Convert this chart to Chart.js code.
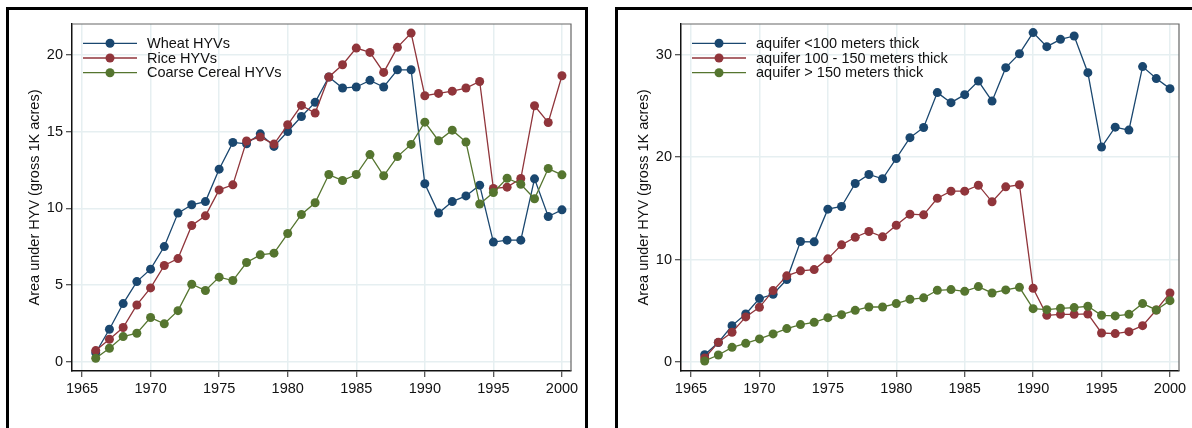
<!DOCTYPE html>
<html>
<head>
<meta charset="utf-8">
<script src="https://cdn.jsdelivr.net/npm/chart.js@4/dist/chart.umd.min.js"></script>
<style>
  html, body { margin: 0; padding: 0; background: #fff; }
  body { width: 1192px; height: 428px; position: relative; overflow: hidden; }
  .frame { position: absolute; top: 7px; height: 440px; border: 3px solid #000; box-sizing: border-box; }
  #frame-left { left: 6px; width: 582px; }
  #frame-right { left: 615px; width: 600px; }
  canvas { position: absolute; top: 0; }
  #chart-left { left: 0; }
  #chart-right { left: 596px; }
</style>
</head>
<body>
<div class="frame" id="frame-left"></div>
<div class="frame" id="frame-right"></div>
<canvas id="chart-left" width="596" height="428"></canvas>
<canvas id="chart-right" width="596" height="428"></canvas>
<script>
// ==== Data ====
const years = [1966, 1967, 1968, 1969, 1970, 1971, 1972, 1973, 1974, 1975, 1976, 1977,
    1978, 1979, 1980, 1981, 1982, 1983, 1984, 1985, 1986, 1987, 1988, 1989, 1990, 1991,
    1992, 1993, 1994, 1995, 1996, 1997, 1998, 1999, 2000];

const wheatHYV = [0.6, 2.13, 3.8, 5.23, 6.04, 7.51, 9.69, 10.23, 10.44, 12.55, 14.29, 14.2,
    14.85, 14.03, 15.0, 15.98, 16.9, 18.55, 17.83, 17.9, 18.33, 17.9, 19.02, 19.02, 11.6, 9.69,
    10.44, 10.81, 11.51, 7.8, 7.93, 7.93, 11.92, 9.47, 9.9];
const riceHYV = [0.74, 1.48, 2.24, 3.71, 4.82, 6.28, 6.73, 8.88, 9.51, 11.2, 11.53, 14.38,
    14.64, 14.18, 15.44, 16.7, 16.2, 18.55, 19.35, 20.43, 20.15, 18.85, 20.48, 21.41, 17.33, 17.48,
    17.63, 17.83, 18.26, 11.29, 11.38, 11.94, 16.68, 15.59, 18.63];
const coarseHYV = [0.24, 0.89, 1.65, 1.87, 2.89, 2.48, 3.34, 5.06, 4.65, 5.52, 5.3, 6.47,
    6.97, 7.08, 8.36, 9.6, 10.36, 12.2, 11.81, 12.2, 13.5, 12.12, 13.37, 14.16, 15.61, 14.4,
    15.09, 14.31, 10.28, 11.03, 11.96, 11.57, 10.62, 12.59, 12.18];

const aquiferThin = [0.71, 1.9, 3.55, 4.69, 6.19, 6.61, 8.05, 11.76, 11.73, 14.92, 15.18, 17.43,
    18.31, 17.89, 19.87, 21.9, 22.9, 26.3, 25.32, 26.1, 27.43, 25.47, 28.74, 30.1, 32.16, 30.79,
    31.5, 31.83, 28.25, 20.98, 22.93, 22.64, 28.84, 27.67, 26.69];
const aquiferMid = [0.39, 1.92, 2.9, 4.4, 5.34, 6.97, 8.41, 8.9, 9.02, 10.07, 11.44, 12.18,
    12.74, 12.22, 13.35, 14.43, 14.37, 15.99, 16.68, 16.68, 17.26, 15.64, 17.1, 17.3, 7.2, 4.56,
    4.65, 4.65, 4.69, 2.83, 2.77, 2.96, 3.55, 5.08, 6.74];
const aquiferThick = [0.1, 0.68, 1.43, 1.82, 2.25, 2.74, 3.26, 3.65, 3.87, 4.33, 4.62, 5.04,
    5.37, 5.37, 5.7, 6.12, 6.26, 7.0, 7.07, 6.9, 7.36, 6.74, 7.04, 7.29, 5.21, 5.11,
    5.24, 5.31, 5.44, 4.56, 4.5, 4.65, 5.7, 5.08, 5.99];

const xTicks = [1965, 1970, 1975, 1980, 1985, 1990, 1995, 2000];
const yTicksLeft = [0, 5, 10, 15, 20];
const yTicksRight = [0, 10, 20, 30];

const leftLabels = ['Wheat HYVs', 'Rice HYVs', 'Coarse Cereal HYVs'];
const rightLabels = ['aquifer <100 meters thick', 'aquifer 100 - 150 meters thick', 'aquifer > 150 meters thick'];
const yTitle = 'Area under HYV (gross 1K acres)';

const NAVY = '#1a476f';
const MAROON = '#90353b';
const GREEN = '#55752f';
const GRID = '#e6eff1';
const FONT = "'Liberation Sans', Arial, Helvetica, sans-serif";

Chart.defaults.font.family = FONT;
Chart.defaults.font.size = 14.5;
Chart.defaults.color = '#111';

// ==== Helpers ====
function makeSeries(label, values, color, order) {
    return {
        label: label,
        data: values.map((v, i) => ({ x: years[i], y: v })),
        borderColor: color,
        backgroundColor: color,
        pointBackgroundColor: color,
        pointBorderColor: color,
        pointBorderWidth: 0,
        pointRadius: 4.5,
        borderWidth: 1.3,
        tension: 0,
        order: order
    };
}

// legend inside the plot, top-left, plus the grey frame on top/right
const plotDecor = {
    id: 'plotDecor',
    beforeDatasetsDraw(chart) {
        const a = chart.chartArea;
        const ctx = chart.ctx;
        ctx.save();
        ctx.strokeStyle = '#666';
        ctx.lineWidth = 1.2;
        ctx.beginPath();
        ctx.moveTo(a.left, a.top);
        ctx.lineTo(a.right, a.top);
        ctx.lineTo(a.right, a.bottom);
        ctx.stroke();
        ctx.restore();
    },
    afterDraw(chart) {
        const a = chart.chartArea;
        const ctx = chart.ctx;
        ctx.save();
        chart.data.datasets.forEach((ds, i) => {
            const y = a.top + 19.3 + i * 14.7;
            ctx.strokeStyle = ds.borderColor;
            ctx.lineWidth = 1.3;
            ctx.beginPath();
            ctx.moveTo(a.left + 11, y);
            ctx.lineTo(a.left + 65, y);
            ctx.stroke();
            ctx.fillStyle = ds.borderColor;
            ctx.beginPath();
            ctx.arc(a.left + 38, y, 4.5, 0, Math.PI * 2);
            ctx.fill();
            ctx.fillStyle = '#111';
            ctx.font = '14.5px ' + FONT;
            ctx.textBaseline = 'middle';
            ctx.textAlign = 'left';
            ctx.fillText(ds.label, a.left + 75, y + 0.5);
        });
        ctx.restore();
    }
};

function buildOptions(yMin, yMax, yTicks) {
    return {
        responsive: false,
        animation: false,
        layout: { padding: { left: 18, top: 24, right: 25, bottom: 17 } },
        plugins: { legend: { display: false }, tooltip: { enabled: false } },
        scales: {
            x: {
                type: 'linear',
                min: 1964.27,
                max: 2000.66,
                afterBuildTicks: scale => { scale.ticks = xTicks.map(v => ({ value: v })); },
                afterFit: scale => { scale.height = 40; },
                ticks: { padding: 3, callback: v => String(v) },
                grid: { color: GRID, lineWidth: 1.5, tickLength: 6, tickColor: '#222', tickWidth: 1 },
                border: { color: '#111', width: 1.5 }
            },
            y: {
                min: yMin,
                max: yMax,
                afterBuildTicks: scale => { scale.ticks = yTicks.map(v => ({ value: v })); },
                afterFit: scale => { scale.width = 54; },
                ticks: { padding: 3 },
                title: { display: true, text: yTitle, padding: { top: 8, bottom: 0 } },
                grid: { color: GRID, lineWidth: 1.5, tickLength: 6, tickColor: '#222', tickWidth: 1 },
                border: { color: '#111', width: 1.5 }
            }
        }
    };
}

// ==== Charts ====
new Chart(document.getElementById('chart-left'), {
    type: 'line',
    data: {
        datasets: [
            makeSeries(leftLabels[0], wheatHYV, NAVY, 3),
            makeSeries(leftLabels[1], riceHYV, MAROON, 2),
            makeSeries(leftLabels[2], coarseHYV, GREEN, 1)
        ]
    },
    options: buildOptions(-0.59, 22.0, yTicksLeft),
    plugins: [plotDecor]
});

const rightOptions = buildOptions(-0.88, 33.0, yTicksRight);
rightOptions.layout.padding = { left: 31, top: 24, right: 13, bottom: 17 };

new Chart(document.getElementById('chart-right'), {
    type: 'line',
    data: {
        datasets: [
            makeSeries(rightLabels[0], aquiferThin, NAVY, 3),
            makeSeries(rightLabels[1], aquiferMid, MAROON, 2),
            makeSeries(rightLabels[2], aquiferThick, GREEN, 1)
        ]
    },
    options: rightOptions,
    plugins: [plotDecor]
});
</script>
</body>
</html>
